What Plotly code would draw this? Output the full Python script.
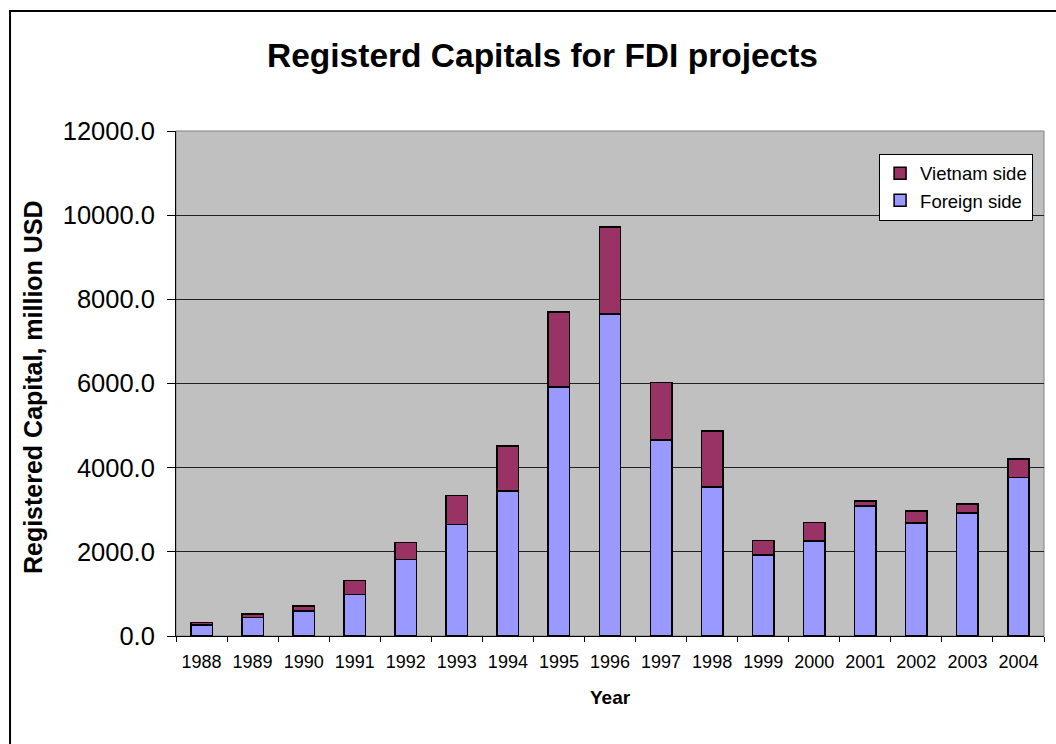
import plotly.graph_objects as go

years = ["1988", "1989", "1990", "1991", "1992", "1993", "1994", "1995", "1996",
         "1997", "1998", "1999", "2000", "2001", "2002", "2003", "2004"]
foreign_side = [257, 440, 599, 986, 1818, 2650, 3451, 5913, 7647,
                4653, 3536, 1930, 2253, 3085, 2690, 2928, 3767]
vietnam_side = [60, 78, 119, 333, 404, 689, 1069, 1782, 2068,
                1371, 1340, 339, 444, 128, 285, 214, 435]
y_ticks = [0, 2000, 4000, 6000, 8000, 10000, 12000]

FONT = "Liberation Sans, Arial, sans-serif"

fig = go.Figure()
fig.add_trace(go.Bar(
    x=years, y=foreign_side, name="Foreign side",
    marker=dict(color="#9999FF", line=dict(color="black", width=1.5)),
))
fig.add_trace(go.Bar(
    x=years, y=vietnam_side, name="Vietnam side",
    marker=dict(color="#993366", line=dict(color="black", width=1.5)),
))

fig.update_layout(
    width=1056, height=744,
    barmode="stack", bargap=0.58,
    paper_bgcolor="white", plot_bgcolor="#C0C0C0",
    margin=dict(l=176, r=12, t=131, b=108),
    font=dict(family=FONT, color="black"),
    showlegend=True,
    legend=dict(
        x=0.810, y=0.955, xanchor="left", yanchor="top",
        bgcolor="white", bordercolor="black", borderwidth=1,
        font=dict(size=18.5, family=FONT), traceorder="reversed",
        tracegroupgap=3,
    ),
    xaxis=dict(
        type="category", showline=True, linecolor="black", linewidth=1,
        ticks="outside", tickson="boundaries", ticklen=5, tickcolor="black",
        tickfont=dict(size=18, family=FONT), showgrid=False,
        ticklabelstandoff=9,
    ),
    yaxis=dict(
        range=[0, 12000], tickvals=y_ticks, tickformat=".1f",
        showline=True, linecolor="black", linewidth=1,
        ticks="outside", ticklen=8, tickcolor="black",
        tickfont=dict(size=25.5, family=FONT),
        showgrid=True, gridcolor="#202020", gridwidth=1,
        zeroline=False, ticklabelstandoff=7,
    ),
    shapes=[
        dict(type="rect", xref="paper", yref="paper", x0=0, x1=1, y0=0, y1=1,
             line=dict(color="#808080", width=1), layer="below"),
        dict(type="rect", xref="paper", yref="paper",
             x0=-0.1912, x1=1.3, y0=-0.5, y1=1.2376,
             line=dict(color="black", width=2)),
    ],
    annotations=[
        dict(text="<b>Registerd Capitals for FDI projects</b>", xref="paper", yref="paper",
             x=0.4217, y=1.150, showarrow=False, font=dict(size=33.5, family=FONT),
             xanchor="center", yanchor="middle"),
        dict(text="<b>Registered Capital, million USD</b>", xref="paper", yref="paper",
             x=-0.1647, y=0.493, showarrow=False, textangle=-90,
             font=dict(size=25, family=FONT), xanchor="center", yanchor="middle"),
        dict(text="<b>Year</b>", xref="paper", yref="paper",
             x=0.5, y=-0.1208, showarrow=False, font=dict(size=19, family=FONT),
             xanchor="center", yanchor="middle"),
    ],
)

fig.write_html("out.html", config={"displayModeBar": False},
               post_script="document.body.style.margin='0';")
